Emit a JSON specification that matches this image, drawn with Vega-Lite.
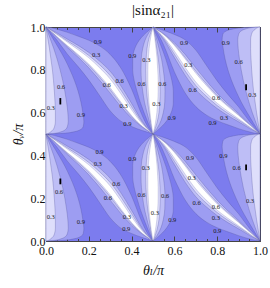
{
"$schema": "https://vega.github.io/schema/vega-lite/v6.json",
"width": 214, "height": 214,
"autosize": {"type": "none"},
"padding": {"left": 46, "top": 27, "right": 10, "bottom": 47},
"background": "white",
"title": {"text": "|sinα₂₁|", "font": "Liberation Serif, DejaVu Serif", "fontSize": 15, "fontWeight": "normal", "color": "#111", "offset": 3, "anchor": "middle"},
"config": {
 "view": {"fill": "#7c7cee", "stroke": null},
 "axis": {"domainColor": "#444", "domainWidth": 1, "tickColor": "#444", "labelFont": "Liberation Serif, DejaVu Serif", "labelFontSize": 12, "labelColor": "#111", "titleFont": "Liberation Serif, DejaVu Serif", "titleFontSize": 14, "titleFontWeight": "normal", "titleColor": "#111", "grid": false, "labelFlush": false, "labelOverlap": false}
},
"datasets": {
 "band": [
  {"q":"UL","x":0,"l1":1,"h1":1,"l2":1,"h2":1,"l3":1,"h3":1,"l4":1,"h4":1},
  {"q":"UL","x":0.025,"l1":0.97,"h1":0.996,"l2":0.977,"h2":0.987,"l3":0.978,"h3":0.984,"l4":0.979,"h4":0.983},
  {"q":"UL","x":0.05,"l1":0.94,"h1":0.99,"l2":0.953,"h2":0.973,"l3":0.956,"h3":0.968,"l4":0.957,"h4":0.965},
  {"q":"UL","x":0.1,"l1":0.873,"h1":0.975,"l2":0.904,"h2":0.943,"l3":0.91,"h3":0.935,"l4":0.913,"h4":0.929},
  {"q":"UL","x":0.15,"l1":0.815,"h1":0.957,"l2":0.859,"h2":0.914,"l3":0.867,"h3":0.903,"l4":0.872,"h4":0.894},
  {"q":"UL","x":0.2,"l1":0.752,"h1":0.938,"l2":0.809,"h2":0.881,"l3":0.821,"h3":0.867,"l4":0.827,"h4":0.856},
  {"q":"UL","x":0.25,"l1":0.68,"h1":0.912,"l2":0.752,"h2":0.841,"l3":0.766,"h3":0.824,"l4":0.774,"h4":0.81},
  {"q":"UL","x":0.3,"l1":0.608,"h1":0.872,"l2":0.691,"h2":0.793,"l3":0.707,"h3":0.773,"l4":0.716,"h4":0.757},
  {"q":"UL","x":0.35,"l1":0.56,"h1":0.808,"l2":0.628,"h2":0.725,"l3":0.642,"h3":0.705,"l4":0.649,"h4":0.688},
  {"q":"UL","x":0.4,"l1":0.535,"h1":0.71,"l2":0.574,"h2":0.643,"l3":0.582,"h3":0.627,"l4":0.586,"h4":0.613},
  {"q":"UL","x":0.45,"l1":0.516,"h1":0.585,"l2":0.532,"h2":0.559,"l3":0.535,"h3":0.553,"l4":0.536,"h4":0.547},
  {"q":"UL","x":0.475,"l1":0.508,"h1":0.535,"l2":0.516,"h2":0.526,"l3":0.517,"h3":0.524,"l4":0.518,"h4":0.522},
  {"q":"UL","x":0.5,"l1":0.5,"h1":0.5,"l2":0.5,"h2":0.5,"l3":0.5,"h3":0.5,"l4":0.5,"h4":0.5},
  {"q":"LL","x":0,"l1":0.5,"h1":0.5,"l2":0.5,"h2":0.5,"l3":0.5,"h3":0.5,"l4":0.5,"h4":0.5},
  {"q":"LL","x":0.025,"l1":0.47,"h1":0.496,"l2":0.477,"h2":0.487,"l3":0.478,"h3":0.484,"l4":0.479,"h4":0.483},
  {"q":"LL","x":0.05,"l1":0.44,"h1":0.49,"l2":0.453,"h2":0.473,"l3":0.456,"h3":0.468,"l4":0.457,"h4":0.465},
  {"q":"LL","x":0.1,"l1":0.373,"h1":0.475,"l2":0.404,"h2":0.443,"l3":0.41,"h3":0.435,"l4":0.413,"h4":0.429},
  {"q":"LL","x":0.15,"l1":0.315,"h1":0.457,"l2":0.359,"h2":0.414,"l3":0.367,"h3":0.403,"l4":0.372,"h4":0.394},
  {"q":"LL","x":0.2,"l1":0.252,"h1":0.438,"l2":0.309,"h2":0.381,"l3":0.321,"h3":0.367,"l4":0.327,"h4":0.356},
  {"q":"LL","x":0.25,"l1":0.18,"h1":0.412,"l2":0.252,"h2":0.341,"l3":0.266,"h3":0.324,"l4":0.274,"h4":0.31},
  {"q":"LL","x":0.3,"l1":0.108,"h1":0.372,"l2":0.191,"h2":0.293,"l3":0.207,"h3":0.273,"l4":0.216,"h4":0.257},
  {"q":"LL","x":0.35,"l1":0.06,"h1":0.308,"l2":0.128,"h2":0.225,"l3":0.142,"h3":0.205,"l4":0.149,"h4":0.188},
  {"q":"LL","x":0.4,"l1":0.035,"h1":0.21,"l2":0.074,"h2":0.143,"l3":0.082,"h3":0.127,"l4":0.086,"h4":0.113},
  {"q":"LL","x":0.45,"l1":0.016,"h1":0.085,"l2":0.032,"h2":0.059,"l3":0.035,"h3":0.053,"l4":0.036,"h4":0.047},
  {"q":"LL","x":0.475,"l1":0.008,"h1":0.035,"l2":0.016,"h2":0.026,"l3":0.017,"h3":0.024,"l4":0.018,"h4":0.022},
  {"q":"LL","x":0.5,"l1":0,"h1":0,"l2":0,"h2":0,"l3":0,"h3":0,"l4":0,"h4":0},
  {"q":"UR","x":0.5,"l1":1,"h1":1,"l2":1,"h2":1,"l3":1,"h3":1,"l4":1,"h4":1},
  {"q":"UR","x":0.525,"l1":0.965,"h1":0.992,"l2":0.974,"h2":0.984,"l3":0.976,"h3":0.983,"l4":0.978,"h4":0.982},
  {"q":"UR","x":0.55,"l1":0.915,"h1":0.984,"l2":0.941,"h2":0.968,"l3":0.947,"h3":0.965,"l4":0.953,"h4":0.964},
  {"q":"UR","x":0.6,"l1":0.79,"h1":0.965,"l2":0.857,"h2":0.926,"l3":0.873,"h3":0.918,"l4":0.887,"h4":0.914},
  {"q":"UR","x":0.65,"l1":0.692,"h1":0.94,"l2":0.775,"h2":0.872,"l3":0.795,"h3":0.858,"l4":0.812,"h4":0.851},
  {"q":"UR","x":0.7,"l1":0.628,"h1":0.892,"l2":0.707,"h2":0.809,"l3":0.727,"h3":0.793,"l4":0.743,"h4":0.784},
  {"q":"UR","x":0.75,"l1":0.588,"h1":0.82,"l2":0.659,"h2":0.748,"l3":0.676,"h3":0.734,"l4":0.69,"h4":0.726},
  {"q":"UR","x":0.8,"l1":0.562,"h1":0.748,"l2":0.619,"h2":0.691,"l3":0.633,"h3":0.679,"l4":0.644,"h4":0.673},
  {"q":"UR","x":0.85,"l1":0.543,"h1":0.685,"l2":0.586,"h2":0.641,"l3":0.597,"h3":0.633,"l4":0.606,"h4":0.628},
  {"q":"UR","x":0.9,"l1":0.525,"h1":0.627,"l2":0.557,"h2":0.596,"l3":0.565,"h3":0.59,"l4":0.571,"h4":0.587},
  {"q":"UR","x":0.95,"l1":0.51,"h1":0.56,"l2":0.527,"h2":0.547,"l3":0.532,"h3":0.544,"l4":0.535,"h4":0.543},
  {"q":"UR","x":0.975,"l1":0.504,"h1":0.53,"l2":0.513,"h2":0.523,"l3":0.516,"h3":0.522,"l4":0.517,"h4":0.521},
  {"q":"UR","x":1,"l1":0.5,"h1":0.5,"l2":0.5,"h2":0.5,"l3":0.5,"h3":0.5,"l4":0.5,"h4":0.5},
  {"q":"LR","x":0.5,"l1":0.5,"h1":0.5,"l2":0.5,"h2":0.5,"l3":0.5,"h3":0.5,"l4":0.5,"h4":0.5},
  {"q":"LR","x":0.525,"l1":0.465,"h1":0.492,"l2":0.474,"h2":0.484,"l3":0.476,"h3":0.483,"l4":0.478,"h4":0.482},
  {"q":"LR","x":0.55,"l1":0.415,"h1":0.484,"l2":0.441,"h2":0.468,"l3":0.447,"h3":0.465,"l4":0.453,"h4":0.464},
  {"q":"LR","x":0.6,"l1":0.29,"h1":0.465,"l2":0.357,"h2":0.426,"l3":0.373,"h3":0.418,"l4":0.387,"h4":0.414},
  {"q":"LR","x":0.65,"l1":0.192,"h1":0.44,"l2":0.275,"h2":0.372,"l3":0.295,"h3":0.358,"l4":0.312,"h4":0.351},
  {"q":"LR","x":0.7,"l1":0.128,"h1":0.392,"l2":0.207,"h2":0.309,"l3":0.227,"h3":0.293,"l4":0.243,"h4":0.284},
  {"q":"LR","x":0.75,"l1":0.088,"h1":0.32,"l2":0.159,"h2":0.248,"l3":0.176,"h3":0.234,"l4":0.19,"h4":0.226},
  {"q":"LR","x":0.8,"l1":0.062,"h1":0.248,"l2":0.119,"h2":0.191,"l3":0.133,"h3":0.179,"l4":0.144,"h4":0.173},
  {"q":"LR","x":0.85,"l1":0.043,"h1":0.185,"l2":0.086,"h2":0.141,"l3":0.097,"h3":0.133,"l4":0.106,"h4":0.128},
  {"q":"LR","x":0.9,"l1":0.025,"h1":0.127,"l2":0.057,"h2":0.096,"l3":0.065,"h3":0.09,"l4":0.071,"h4":0.087},
  {"q":"LR","x":0.95,"l1":0.01,"h1":0.06,"l2":0.027,"h2":0.047,"l3":0.032,"h3":0.044,"l4":0.035,"h4":0.043},
  {"q":"LR","x":0.975,"l1":0.004,"h1":0.03,"l2":0.013,"h2":0.023,"l3":0.016,"h3":0.022,"l4":0.017,"h4":0.021},
  {"q":"LR","x":1,"l1":0,"h1":0,"l2":0,"h2":0,"l3":0,"h3":0,"l4":0,"h4":0}
 ],
 "lens": [
  {"g":"L1","y":1,"a1":0,"b1":0,"a2":0,"b2":0,"a3":0,"b3":0},
  {"g":"L1","y":0.95,"a1":0,"b1":0.03,"a2":0,"b2":0.018,"a3":0,"b3":0.008},
  {"g":"L1","y":0.9,"a1":0,"b1":0.06,"a2":0,"b2":0.036,"a3":0,"b3":0.016},
  {"g":"L1","y":0.85,"a1":0,"b1":0.088,"a2":0,"b2":0.052,"a3":0,"b3":0.023},
  {"g":"L1","y":0.8,"a1":0,"b1":0.112,"a2":0,"b2":0.066,"a3":0,"b3":0.03},
  {"g":"L1","y":0.75,"a1":0,"b1":0.133,"a2":0,"b2":0.078,"a3":0,"b3":0.035},
  {"g":"L1","y":0.7,"a1":0,"b1":0.15,"a2":0,"b2":0.088,"a3":0,"b3":0.039},
  {"g":"L1","y":0.65,"a1":0,"b1":0.163,"a2":0,"b2":0.096,"a3":0,"b3":0.042},
  {"g":"L1","y":0.6,"a1":0,"b1":0.172,"a2":0,"b2":0.102,"a3":0,"b3":0.044},
  {"g":"L1","y":0.56,"a1":0,"b1":0.177,"a2":0,"b2":0.104,"a3":0,"b3":0.044},
  {"g":"L1","y":0.535,"a1":0,"b1":0.174,"a2":0,"b2":0.1,"a3":0,"b3":0.04},
  {"g":"L1","y":0.52,"a1":0,"b1":0.16,"a2":0,"b2":0.09,"a3":0,"b3":0.033},
  {"g":"L1","y":0.51,"a1":0,"b1":0.13,"a2":0,"b2":0.07,"a3":0,"b3":0.022},
  {"g":"L1","y":0.503,"a1":0,"b1":0.08,"a2":0,"b2":0.04,"a3":0,"b3":0.011},
  {"g":"L1","y":0.5,"a1":0,"b1":0,"a2":0,"b2":0,"a3":0,"b3":0},
  {"g":"L2","y":0.5,"a1":0,"b1":0,"a2":0,"b2":0,"a3":0,"b3":0},
  {"g":"L2","y":0.45,"a1":0,"b1":0.03,"a2":0,"b2":0.018,"a3":0,"b3":0.008},
  {"g":"L2","y":0.4,"a1":0,"b1":0.06,"a2":0,"b2":0.036,"a3":0,"b3":0.016},
  {"g":"L2","y":0.35,"a1":0,"b1":0.088,"a2":0,"b2":0.052,"a3":0,"b3":0.023},
  {"g":"L2","y":0.3,"a1":0,"b1":0.112,"a2":0,"b2":0.066,"a3":0,"b3":0.03},
  {"g":"L2","y":0.25,"a1":0,"b1":0.133,"a2":0,"b2":0.078,"a3":0,"b3":0.035},
  {"g":"L2","y":0.2,"a1":0,"b1":0.15,"a2":0,"b2":0.088,"a3":0,"b3":0.039},
  {"g":"L2","y":0.15,"a1":0,"b1":0.163,"a2":0,"b2":0.096,"a3":0,"b3":0.042},
  {"g":"L2","y":0.1,"a1":0,"b1":0.172,"a2":0,"b2":0.102,"a3":0,"b3":0.044},
  {"g":"L2","y":0.06,"a1":0,"b1":0.177,"a2":0,"b2":0.104,"a3":0,"b3":0.044},
  {"g":"L2","y":0.035,"a1":0,"b1":0.174,"a2":0,"b2":0.1,"a3":0,"b3":0.04},
  {"g":"L2","y":0.02,"a1":0,"b1":0.16,"a2":0,"b2":0.09,"a3":0,"b3":0.033},
  {"g":"L2","y":0.01,"a1":0,"b1":0.13,"a2":0,"b2":0.07,"a3":0,"b3":0.022},
  {"g":"L2","y":0.003,"a1":0,"b1":0.08,"a2":0,"b2":0.04,"a3":0,"b3":0.011},
  {"g":"L2","y":0,"a1":0,"b1":0,"a2":0,"b2":0,"a3":0,"b3":0},
  {"g":"R1","y":0.5,"a1":1,"b1":1,"a2":1,"b2":1,"a3":1,"b3":1},
  {"g":"R1","y":0.55,"a1":0.97,"b1":1,"a2":0.982,"b2":1,"a3":0.992,"b3":1},
  {"g":"R1","y":0.6,"a1":0.94,"b1":1,"a2":0.964,"b2":1,"a3":0.984,"b3":1},
  {"g":"R1","y":0.65,"a1":0.912,"b1":1,"a2":0.948,"b2":1,"a3":0.977,"b3":1},
  {"g":"R1","y":0.7,"a1":0.888,"b1":1,"a2":0.934,"b2":1,"a3":0.97,"b3":1},
  {"g":"R1","y":0.75,"a1":0.867,"b1":1,"a2":0.922,"b2":1,"a3":0.965,"b3":1},
  {"g":"R1","y":0.8,"a1":0.85,"b1":1,"a2":0.912,"b2":1,"a3":0.961,"b3":1},
  {"g":"R1","y":0.85,"a1":0.837,"b1":1,"a2":0.904,"b2":1,"a3":0.958,"b3":1},
  {"g":"R1","y":0.9,"a1":0.828,"b1":1,"a2":0.898,"b2":1,"a3":0.956,"b3":1},
  {"g":"R1","y":0.94,"a1":0.823,"b1":1,"a2":0.896,"b2":1,"a3":0.956,"b3":1},
  {"g":"R1","y":0.965,"a1":0.826,"b1":1,"a2":0.9,"b2":1,"a3":0.96,"b3":1},
  {"g":"R1","y":0.98,"a1":0.84,"b1":1,"a2":0.91,"b2":1,"a3":0.967,"b3":1},
  {"g":"R1","y":0.99,"a1":0.87,"b1":1,"a2":0.93,"b2":1,"a3":0.978,"b3":1},
  {"g":"R1","y":0.997,"a1":0.92,"b1":1,"a2":0.96,"b2":1,"a3":0.989,"b3":1},
  {"g":"R1","y":1,"a1":1,"b1":1,"a2":1,"b2":1,"a3":1,"b3":1},
  {"g":"R2","y":0,"a1":1,"b1":1,"a2":1,"b2":1,"a3":1,"b3":1},
  {"g":"R2","y":0.05,"a1":0.97,"b1":1,"a2":0.982,"b2":1,"a3":0.992,"b3":1},
  {"g":"R2","y":0.1,"a1":0.94,"b1":1,"a2":0.964,"b2":1,"a3":0.984,"b3":1},
  {"g":"R2","y":0.15,"a1":0.912,"b1":1,"a2":0.948,"b2":1,"a3":0.977,"b3":1},
  {"g":"R2","y":0.2,"a1":0.888,"b1":1,"a2":0.934,"b2":1,"a3":0.97,"b3":1},
  {"g":"R2","y":0.25,"a1":0.867,"b1":1,"a2":0.922,"b2":1,"a3":0.965,"b3":1},
  {"g":"R2","y":0.3,"a1":0.85,"b1":1,"a2":0.912,"b2":1,"a3":0.961,"b3":1},
  {"g":"R2","y":0.35,"a1":0.837,"b1":1,"a2":0.904,"b2":1,"a3":0.958,"b3":1},
  {"g":"R2","y":0.4,"a1":0.828,"b1":1,"a2":0.898,"b2":1,"a3":0.956,"b3":1},
  {"g":"R2","y":0.44,"a1":0.823,"b1":1,"a2":0.896,"b2":1,"a3":0.956,"b3":1},
  {"g":"R2","y":0.465,"a1":0.826,"b1":1,"a2":0.9,"b2":1,"a3":0.96,"b3":1},
  {"g":"R2","y":0.48,"a1":0.84,"b1":1,"a2":0.91,"b2":1,"a3":0.967,"b3":1},
  {"g":"R2","y":0.49,"a1":0.87,"b1":1,"a2":0.93,"b2":1,"a3":0.978,"b3":1},
  {"g":"R2","y":0.497,"a1":0.92,"b1":1,"a2":0.96,"b2":1,"a3":0.989,"b3":1},
  {"g":"R2","y":0.5,"a1":1,"b1":1,"a2":1,"b2":1,"a3":1,"b3":1},
  {"g":"C1","y":1,"a1":0.5,"b1":0.5,"a2":0.5,"b2":0.5,"a3":0.5,"b3":0.5,"a4":0.5,"b4":0.5},
  {"g":"C1","y":0.975,"a1":0.47,"b1":0.511,"a2":0.482,"b2":0.508,"a3":0.49,"b3":0.505,"a4":0.494,"b4":0.504},
  {"g":"C1","y":0.95,"a1":0.445,"b1":0.522,"a2":0.468,"b2":0.515,"a3":0.482,"b3":0.51,"a4":0.489,"b4":0.508},
  {"g":"C1","y":0.9,"a1":0.415,"b1":0.542,"a2":0.452,"b2":0.528,"a3":0.472,"b3":0.518,"a4":0.482,"b4":0.514},
  {"g":"C1","y":0.85,"a1":0.405,"b1":0.56,"a2":0.445,"b2":0.54,"a3":0.468,"b3":0.525,"a4":0.478,"b4":0.519},
  {"g":"C1","y":0.8,"a1":0.405,"b1":0.575,"a2":0.444,"b2":0.548,"a3":0.466,"b3":0.53,"a4":0.476,"b4":0.522},
  {"g":"C1","y":0.75,"a1":0.412,"b1":0.588,"a2":0.446,"b2":0.554,"a3":0.467,"b3":0.533,"a4":0.476,"b4":0.524},
  {"g":"C1","y":0.7,"a1":0.425,"b1":0.595,"a2":0.452,"b2":0.556,"a3":0.47,"b3":0.534,"a4":0.478,"b4":0.524},
  {"g":"C1","y":0.65,"a1":0.44,"b1":0.595,"a2":0.46,"b2":0.555,"a3":0.475,"b3":0.532,"a4":0.481,"b4":0.522},
  {"g":"C1","y":0.6,"a1":0.458,"b1":0.585,"a2":0.472,"b2":0.548,"a3":0.482,"b3":0.528,"a4":0.486,"b4":0.518},
  {"g":"C1","y":0.55,"a1":0.478,"b1":0.555,"a2":0.485,"b2":0.532,"a3":0.49,"b3":0.518,"a4":0.492,"b4":0.511},
  {"g":"C1","y":0.525,"a1":0.489,"b1":0.53,"a2":0.492,"b2":0.518,"a3":0.495,"b3":0.51,"a4":0.496,"b4":0.506},
  {"g":"C1","y":0.5,"a1":0.5,"b1":0.5,"a2":0.5,"b2":0.5,"a3":0.5,"b3":0.5,"a4":0.5,"b4":0.5},
  {"g":"C2","y":0.5,"a1":0.5,"b1":0.5,"a2":0.5,"b2":0.5,"a3":0.5,"b3":0.5,"a4":0.5,"b4":0.5},
  {"g":"C2","y":0.475,"a1":0.47,"b1":0.511,"a2":0.482,"b2":0.508,"a3":0.49,"b3":0.505,"a4":0.494,"b4":0.504},
  {"g":"C2","y":0.45,"a1":0.445,"b1":0.522,"a2":0.468,"b2":0.515,"a3":0.482,"b3":0.51,"a4":0.489,"b4":0.508},
  {"g":"C2","y":0.4,"a1":0.415,"b1":0.542,"a2":0.452,"b2":0.528,"a3":0.472,"b3":0.518,"a4":0.482,"b4":0.514},
  {"g":"C2","y":0.35,"a1":0.405,"b1":0.56,"a2":0.445,"b2":0.54,"a3":0.468,"b3":0.525,"a4":0.478,"b4":0.519},
  {"g":"C2","y":0.3,"a1":0.405,"b1":0.575,"a2":0.444,"b2":0.548,"a3":0.466,"b3":0.53,"a4":0.476,"b4":0.522},
  {"g":"C2","y":0.25,"a1":0.412,"b1":0.588,"a2":0.446,"b2":0.554,"a3":0.467,"b3":0.533,"a4":0.476,"b4":0.524},
  {"g":"C2","y":0.2,"a1":0.425,"b1":0.595,"a2":0.452,"b2":0.556,"a3":0.47,"b3":0.534,"a4":0.478,"b4":0.524},
  {"g":"C2","y":0.15,"a1":0.44,"b1":0.595,"a2":0.46,"b2":0.555,"a3":0.475,"b3":0.532,"a4":0.481,"b4":0.522},
  {"g":"C2","y":0.1,"a1":0.458,"b1":0.585,"a2":0.472,"b2":0.548,"a3":0.482,"b3":0.528,"a4":0.486,"b4":0.518},
  {"g":"C2","y":0.05,"a1":0.478,"b1":0.555,"a2":0.485,"b2":0.532,"a3":0.49,"b3":0.518,"a4":0.492,"b4":0.511},
  {"g":"C2","y":0.025,"a1":0.489,"b1":0.53,"a2":0.492,"b2":0.518,"a3":0.495,"b3":0.51,"a4":0.496,"b4":0.506},
  {"g":"C2","y":0,"a1":0.5,"b1":0.5,"a2":0.5,"b2":0.5,"a3":0.5,"b3":0.5,"a4":0.5,"b4":0.5}
 ],
 "labels": [
  {"x":0.242,"y":0.929,"t":"0.9"},{"x":0.234,"y":0.869,"t":"0.3"},{"x":0.284,"y":0.728,"t":"0.6"},{"x":0.344,"y":0.748,"t":"0.6"},
  {"x":0.363,"y":0.633,"t":"0.3"},{"x":0.38,"y":0.548,"t":"0.9"},{"x":0.403,"y":0.866,"t":"0.9"},{"x":0.469,"y":0.846,"t":"0.3"},
  {"x":0.446,"y":0.735,"t":"0.6"},{"x":0.07,"y":0.72,"t":"0.6"},{"x":0.022,"y":0.622,"t":"0.3"},{"x":0.163,"y":0.591,"t":"0.9"},
  {"x":0.645,"y":0.924,"t":"0.9"},{"x":0.665,"y":0.824,"t":"0.3"},{"x":0.685,"y":0.704,"t":"0.6"},{"x":0.795,"y":0.668,"t":"0.6"},
  {"x":0.832,"y":0.574,"t":"0.3"},{"x":0.778,"y":0.553,"t":"0.9"},{"x":0.84,"y":0.925,"t":"0.9"},{"x":0.9,"y":0.838,"t":"0.6"},
  {"x":0.964,"y":0.68,"t":"0.3"},{"x":0.543,"y":0.735,"t":"0.6"},{"x":0.516,"y":0.64,"t":"0.3"},{"x":0.587,"y":0.574,"t":"0.9"},
  {"x":0.25,"y":0.417,"t":"0.9"},{"x":0.242,"y":0.359,"t":"0.3"},{"x":0.328,"y":0.268,"t":"0.6"},{"x":0.289,"y":0.202,"t":"0.6"},
  {"x":0.378,"y":0.113,"t":"0.3"},{"x":0.375,"y":0.055,"t":"0.9"},{"x":0.403,"y":0.381,"t":"0.9"},{"x":0.466,"y":0.339,"t":"0.3"},
  {"x":0.446,"y":0.216,"t":"0.6"},{"x":0.061,"y":0.231,"t":"0.6"},{"x":0.022,"y":0.113,"t":"0.3"},{"x":0.163,"y":0.091,"t":"0.9"},
  {"x":0.673,"y":0.386,"t":"0.9"},{"x":0.681,"y":0.293,"t":"0.3"},{"x":0.704,"y":0.176,"t":"0.6"},{"x":0.794,"y":0.16,"t":"0.6"},
  {"x":0.794,"y":0.106,"t":"0.3"},{"x":0.8,"y":0.048,"t":"0.9"},{"x":0.829,"y":0.397,"t":"0.9"},{"x":0.891,"y":0.34,"t":"0.6"},
  {"x":0.953,"y":0.188,"t":"0.3"},{"x":0.556,"y":0.21,"t":"0.6"},{"x":0.509,"y":0.129,"t":"0.3"},{"x":0.59,"y":0.098,"t":"0.9"}
 ],
 "bars": [
  {"x":0.067,"y":0.638,"y2":0.668},{"x":0.067,"y":0.265,"y2":0.292},{"x":0.935,"y":0.705,"y2":0.732},{"x":0.935,"y":0.331,"y2":0.358}
 ]
},
"layer": [
 {"data":{"name":"band"},"mark":{"type":"area","orient":"vertical","interpolate":"monotone","fill":"#9d9df2","stroke":"#50509a","strokeWidth":0.6,"strokeOpacity":0.5},
  "encoding":{
   "x":{"field":"x","type":"quantitative","scale":{"domain":[0,1],"nice":false},
     "axis":{"orient":"bottom","values":[0,0.05,0.1,0.15,0.2,0.25,0.3,0.35,0.4,0.45,0.5,0.55,0.6,0.65,0.7,0.75,0.8,0.85,0.9,0.95,1],
       "labelExpr":"indexof([0,0.2,0.4,0.6,0.8,1], datum.value) >= 0 ? format(datum.value, '.1f') : ''",
       "tickSize":{"condition":{"test":"indexof([0,0.2,0.4,0.6,0.8,1], datum.value) >= 0","value":-5},"value":-2.5},
       "labelPadding":9,"title":"θₗ/π","titlePadding":5,"titleFontStyle":"italic"}},
   "y":{"field":"l1","type":"quantitative","scale":{"domain":[0,1],"nice":false},
     "axis":{"orient":"left","values":[0,0.05,0.1,0.15,0.2,0.25,0.3,0.35,0.4,0.45,0.5,0.55,0.6,0.65,0.7,0.75,0.8,0.85,0.9,0.95,1],
       "labelExpr":"indexof([0,0.2,0.4,0.6,0.8,1], datum.value) >= 0 ? format(datum.value, '.1f') : ''",
       "tickSize":{"condition":{"test":"indexof([0,0.2,0.4,0.6,0.8,1], datum.value) >= 0","value":-5},"value":-2.5},
       "labelPadding":6,"title":"θᵥ/π","titlePadding":5,"titleFontStyle":"italic"}},
   "y2":{"field":"h1"},
   "detail":{"field":"q"}}},
 {"data":{"name":"lens"},"mark":{"type":"area","orient":"horizontal","interpolate":"monotone","fill":"#9d9df2","stroke":"#50509a","strokeWidth":0.6,"strokeOpacity":0.5},
  "encoding":{"y":{"field":"y","type":"quantitative","scale":{"domain":[0,1]},"axis":null},"x":{"field":"a1","type":"quantitative","scale":{"domain":[0,1]},"axis":null},"x2":{"field":"b1"},"detail":{"field":"g"}}},
 {"data":{"name":"band"},"mark":{"type":"area","orient":"vertical","interpolate":"monotone","fill":"#bebef6","stroke":"#50509a","strokeWidth":0.6,"strokeOpacity":0.5},
  "encoding":{"x":{"field":"x","type":"quantitative","scale":{"domain":[0,1]},"axis":null},"y":{"field":"l2","type":"quantitative","scale":{"domain":[0,1]},"axis":null},"y2":{"field":"h2"},"detail":{"field":"q"}}},
 {"data":{"name":"lens"},"mark":{"type":"area","orient":"horizontal","interpolate":"monotone","fill":"#bebef6","stroke":"#50509a","strokeWidth":0.6,"strokeOpacity":0.5},
  "encoding":{"y":{"field":"y","type":"quantitative","scale":{"domain":[0,1]},"axis":null},"x":{"field":"a2","type":"quantitative","scale":{"domain":[0,1]},"axis":null},"x2":{"field":"b2"},"detail":{"field":"g"}}},
 {"data":{"name":"band"},"mark":{"type":"area","orient":"vertical","interpolate":"monotone","fill":"#dedefb","stroke":"#50509a","strokeWidth":0.6,"strokeOpacity":0.5},
  "encoding":{"x":{"field":"x","type":"quantitative","scale":{"domain":[0,1]},"axis":null},"y":{"field":"l3","type":"quantitative","scale":{"domain":[0,1]},"axis":null},"y2":{"field":"h3"},"detail":{"field":"q"}}},
 {"data":{"name":"lens"},"mark":{"type":"area","orient":"horizontal","interpolate":"monotone","fill":"#dedefb","stroke":"#50509a","strokeWidth":0.6,"strokeOpacity":0.5},
  "encoding":{"y":{"field":"y","type":"quantitative","scale":{"domain":[0,1]},"axis":null},"x":{"field":"a3","type":"quantitative","scale":{"domain":[0,1]},"axis":null},"x2":{"field":"b3"},"detail":{"field":"g"}}},
 {"data":{"name":"band"},"mark":{"type":"area","orient":"vertical","interpolate":"monotone","fill":"#ffffff","stroke":"#50509a","strokeWidth":0.5,"strokeOpacity":0.4},
  "encoding":{"x":{"field":"x","type":"quantitative","scale":{"domain":[0,1]},"axis":null},"y":{"field":"l4","type":"quantitative","scale":{"domain":[0,1]},"axis":null},"y2":{"field":"h4"},"detail":{"field":"q"}}},
 {"data":{"name":"lens"},"transform":[{"filter":"isValid(datum.a4)"}],"mark":{"type":"area","orient":"horizontal","interpolate":"monotone","fill":"#ffffff","stroke":"#50509a","strokeWidth":0.5,"strokeOpacity":0.4},
  "encoding":{"y":{"field":"y","type":"quantitative","scale":{"domain":[0,1]},"axis":null},"x":{"field":"a4","type":"quantitative","scale":{"domain":[0,1]},"axis":null},"x2":{"field":"b4"},"detail":{"field":"g"}}},
 {"data":{"name":"labels"},"mark":{"type":"text","font":"Liberation Serif, DejaVu Serif","fontSize":6.5,"color":"#1a1a1a"},
  "encoding":{"x":{"field":"x","type":"quantitative","scale":{"domain":[0,1]},"axis":null},"y":{"field":"y","type":"quantitative","scale":{"domain":[0,1]},"axis":null},"text":{"field":"t"}}},
 {"data":{"name":"bars"},"mark":{"type":"rule","color":"#000","strokeWidth":1.8},
  "encoding":{
   "x":{"field":"x","type":"quantitative","scale":{"domain":[0,1]},
     "axis":{"orient":"top","values":[0,0.05,0.1,0.15,0.2,0.25,0.3,0.35,0.4,0.45,0.5,0.55,0.6,0.65,0.7,0.75,0.8,0.85,0.9,0.95,1],"labels":false,"title":null,
       "tickSize":{"condition":{"test":"indexof([0,0.2,0.4,0.6,0.8,1], datum.value) >= 0","value":-5},"value":-2.5}}},
   "y":{"field":"y","type":"quantitative","scale":{"domain":[0,1]},
     "axis":{"orient":"right","values":[0,0.05,0.1,0.15,0.2,0.25,0.3,0.35,0.4,0.45,0.5,0.55,0.6,0.65,0.7,0.75,0.8,0.85,0.9,0.95,1],"labels":false,"title":null,
       "tickSize":{"condition":{"test":"indexof([0,0.2,0.4,0.6,0.8,1], datum.value) >= 0","value":-5},"value":-2.5}}},
   "y2":{"field":"y2"}}}
],
"resolve":{"axis":{"x":"independent","y":"independent"}}
}
